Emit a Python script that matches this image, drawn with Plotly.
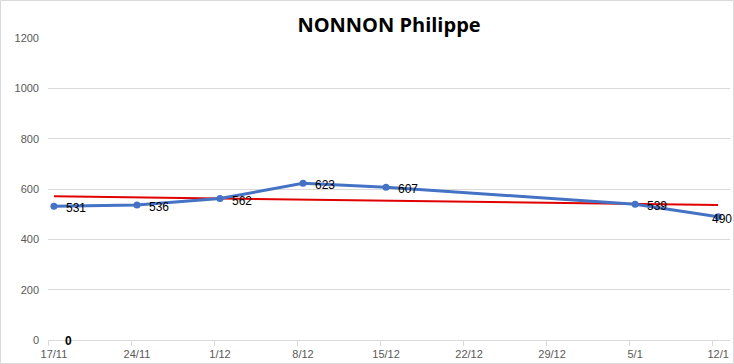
import numpy as np
import pandas as pd
import plotly.graph_objects as go

dates = ["2019-11-17", "2019-11-24", "2019-12-01", "2019-12-08", "2019-12-15", "2020-01-05", "2020-01-12"]
values = [531, 536, 562, 623, 607, 539, 490]
title = "NONNON Philippe"
stray_label = "0"

W, H = 734, 364
ML, MR, MT, MB = 48, 4, 38, 24

d = pd.to_datetime(dates)
days = (d - d[0]).days.values.astype(float)
slope, intercept = np.polyfit(days, values, 1)
trend = [intercept + slope * x for x in (days[0], days[-1])]

fig = go.Figure()
fig.add_trace(go.Scatter(
    x=[d[0], d[-1]], y=trend, mode="lines",
    line=dict(color="#E00000", width=2), hoverinfo="skip", showlegend=False))
fig.add_trace(go.Scatter(
    x=d, y=values, mode="lines+markers",
    line=dict(color="#4472C4", width=3),
    marker=dict(color="#4472C4", size=7), showlegend=False, cliponaxis=False))

lab_font = dict(family="Liberation Sans, Arial", size=12, color="#000000")
for i, (xd, v) in enumerate(zip(d, values)):
    last = i == len(values) - 1
    fig.add_annotation(x=xd, y=v, text=str(v), showarrow=False, font=lab_font,
                       xanchor="right" if last else "left",
                       xshift=16 if last else 10, yshift=-2)

fig.add_annotation(x=d[0] + pd.Timedelta(hours=29), y=0, text="<b>" + stray_label + "</b>",
                   showarrow=False, font=dict(family="Liberation Sans, Arial", size=12, color="#000"),
                   xanchor="center", yanchor="middle", yshift=-1)

pw = W - ML - MR
ph = H - MT - MB
fig.add_shape(type="rect", xref="paper", yref="paper",
              x0=(0.5 - ML) / pw, x1=(W - 0.5 - ML) / pw,
              y0=-(MB - 0.5) / ph, y1=1 + (MT - 0.5) / ph,
              line=dict(color="#D9D9D9", width=1), layer="below")

fig.update_layout(
    width=W, height=H,
    margin=dict(l=ML, r=MR, t=MT, b=MB),
    paper_bgcolor="white", plot_bgcolor="white",
    title=dict(text="<b>" + title + "</b>", x=0.5, xref="paper", xanchor="center",
               y=1 - 25 / H, yanchor="middle",
               font=dict(family="Open Sans, Liberation Sans", size=20, color="#000")),
    xaxis=dict(
        type="date",
        range=[d[0] - pd.Timedelta(hours=12), d[-1] + pd.Timedelta(hours=24)],
        tick0=d[0], dtick=7 * 86400000, tickformat="%-d/%-m",
        ticks="", showgrid=False, showline=False, zeroline=False,
        tickfont=dict(family="Liberation Sans, Arial", size=11, color="#595959"),
        ticklabelstandoff=6,
        minor=dict(ticks="outside", tick0=d[0] - pd.Timedelta(hours=12),
                   dtick=7 * 86400000, ticklen=5, tickcolor="#D9D9D9", showgrid=False),
    ),
    yaxis=dict(
        range=[0, 1200], dtick=200, showgrid=True, gridcolor="#D9D9D9", gridwidth=1,
        zeroline=True, zerolinecolor="#D9D9D9", zerolinewidth=1, showline=False,
        tickfont=dict(family="Liberation Sans, Arial", size=11, color="#595959"),
        ticklabelstandoff=8,
    ),
)

fig.write_html("out.html", config={"displayModeBar": False},
               post_script="document.body.style.margin='0px';document.body.style.overflow='hidden';")
